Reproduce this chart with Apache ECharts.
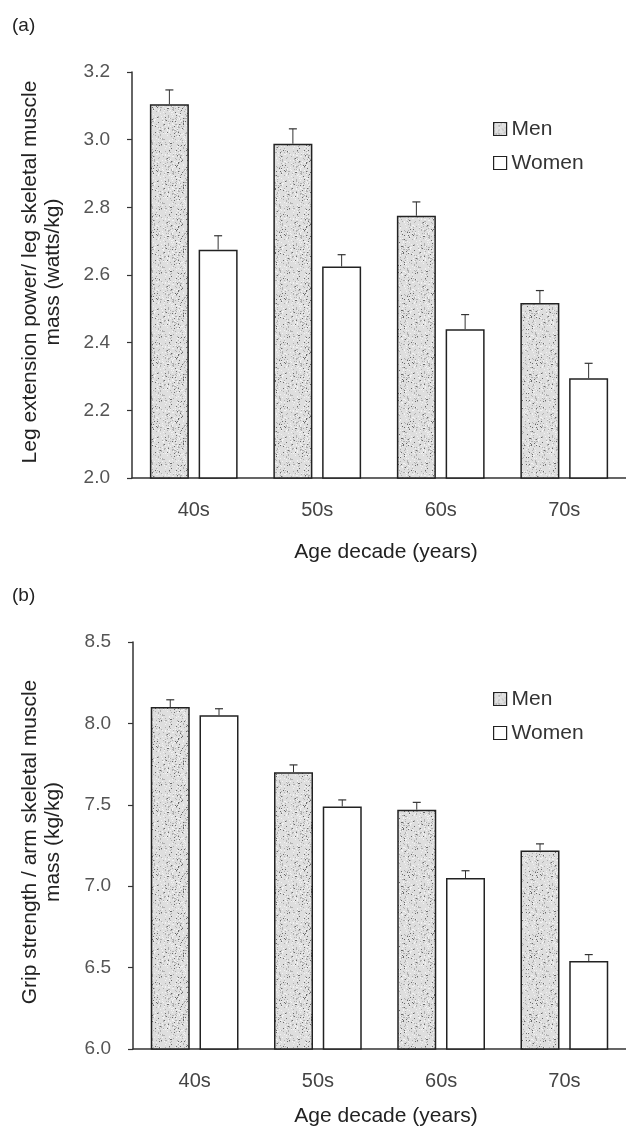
<!DOCTYPE html>
<html>
<head>
<meta charset="utf-8">
<script src="https://cdn.jsdelivr.net/npm/echarts@6/dist/echarts.min.js"></script>
<style>
html,body{margin:0;padding:0;background:#fff;}
#chart{width:626px;height:1128px;}
</style>
</head>
<body>
<div id="chart"></div>
<script>
// ---- data ----
const categories = ['40s', '50s', '60s', '70s'];
const seriesNames = ['Men', 'Women'];

const legMen = [3.105, 2.988, 2.775, 2.517];
const legMenErr = [0.042, 0.044, 0.041, 0.037];
const legWomen = [2.675, 2.625, 2.44, 2.295];
const legWomenErr = [0.041, 0.035, 0.043, 0.044];

const gripMen = [8.10, 7.70, 7.47, 7.22];
const gripMenErr = [0.045, 0.045, 0.045, 0.04];
const gripWomen = [8.05, 7.49, 7.05, 6.54];
const gripWomenErr = [0.04, 0.04, 0.045, 0.04];

const legTicks = [2.0, 2.2, 2.4, 2.6, 2.8, 3.0, 3.2];
const gripTicks = [6.0, 6.5, 7.0, 7.5, 8.0, 8.5];

const panelLabels = ['(a)', '(b)'];
const yTitles = ['Leg extension power/ leg skeletal muscle\nmass (watts/kg)',
                 'Grip strength / arm skeletal muscle\nmass (kg/kg)'];
const xTitle = 'Age decade (years)';

// ---- style ----
const FONT = '"Liberation Sans", Arial, sans-serif';
const BAR_W = 39;
const GAP_PCT = 25;
const GAP = BAR_W * GAP_PCT / 100;

// stipple texture (deterministic)
function makeStipple() {
  const c = document.createElement('canvas');
  c.width = 64; c.height = 64;
  const g = c.getContext('2d');
  g.fillStyle = '#dedede';
  g.fillRect(0, 0, 64, 64);
  let s = 12345;
  function rnd() { s = (s * 1103515245 + 12345) & 0x7fffffff; return s / 0x7fffffff; }
  for (let i = 0; i < 1000; i++) {
    const x = Math.floor(rnd() * 64), y = Math.floor(rnd() * 64);
    const t = rnd();
    g.fillStyle = t < 0.12 ? '#6a6a6a' : (t < 0.55 ? '#b0b0b0' : '#f2f2f2');
    g.fillRect(x, y, 1, 1);
  }
  return c;
}
const stipple = { image: makeStipple(), repeat: 'repeat' };

const menStyle = { color: stipple, borderColor: '#222', borderWidth: 1.5 };
const womenStyle = { color: '#ffffff', borderColor: '#222', borderWidth: 1.5 };

function errRender(side) {
  return function (params, api) {
    const i = api.value(0), v = api.value(1), e = api.value(2);
    const base = api.coord([i, v]);
    const top = api.coord([i, v + e]);
    const x = base[0] + side * (BAR_W / 2 + GAP / 2);
    return {
      type: 'group',
      children: [
        { type: 'line', shape: { x1: x, y1: base[1], x2: x, y2: top[1] }, style: { stroke: '#333', lineWidth: 1 } },
        { type: 'line', shape: { x1: x - 4, y1: top[1], x2: x + 4, y2: top[1] }, style: { stroke: '#333', lineWidth: 1.2 } }
      ]
    };
  };
}

const grids = [
  { left: 132, top: 72, width: 505, height: 406 },
  { left: 133, top: 642, width: 505, height: 407 }
];
const tickSets = [legTicks, gripTicks];

function xAxisFor(idx) {
  return {
    type: 'category', gridIndex: idx, data: categories,
    axisLine: { show: true, lineStyle: { color: '#333', width: 1.5 } },
    axisTick: { show: false },
    axisLabel: { color: '#444', fontSize: 20, fontFamily: FONT, margin: 22 },
    splitLine: { show: false }
  };
}
function yAxisFor(idx) {
  const t = tickSets[idx];
  return {
    type: 'value', gridIndex: idx,
    min: t[0], max: t[t.length - 1], interval: +(t[1] - t[0]).toFixed(2),
    axisLine: { show: true, lineStyle: { color: '#333', width: 1.5 } },
    axisTick: { show: true, inside: false, length: 5, lineStyle: { color: '#333', width: 1.2 } },
    axisLabel: { color: '#555', fontSize: 19, fontFamily: FONT, margin: 22, formatter: v => v.toFixed(1) },
    splitLine: { show: false }
  };
}

function barSeries(name, data, style, idx) {
  return {
    name: name, type: 'bar', xAxisIndex: idx, yAxisIndex: idx,
    data: data, barWidth: BAR_W, barGap: GAP_PCT + '%',
    itemStyle: style, silent: true, animation: false
  };
}
function errSeries(vals, errs, side, idx) {
  return {
    type: 'custom', xAxisIndex: idx, yAxisIndex: idx,
    renderItem: errRender(side),
    data: vals.map((v, i) => [i, v, errs[i]]),
    z: 3, silent: true, animation: false
  };
}

function legendFor(top) {
  return {
    orient: 'vertical', left: 493, top: top, padding: 0,
    icon: 'rect', itemWidth: 13, itemHeight: 13, itemGap: 12,
    selectedMode: false,
    textStyle: { fontSize: 21, lineHeight: 22, fontFamily: FONT, color: '#333' },
    data: [
      { name: seriesNames[0], itemStyle: { color: stipple, borderColor: '#222', borderWidth: 1.2 } },
      { name: seriesNames[1], itemStyle: { color: '#fff', borderColor: '#222', borderWidth: 1.2 } }
    ]
  };
}

const graphics = [];
[27, 597].forEach((y, k) => {
  graphics.push({ type: 'text', left: 12, top: y - 11, style: { text: panelLabels[k], font: '19px ' + FONT, fill: '#222' } });
});
[272, 842].forEach((y, k) => {
  graphics.push({
    type: 'text', x: 42, y: y, rotation: Math.PI / 2,
    style: { text: yTitles[k], font: '21px ' + FONT, fill: '#222', align: 'center', verticalAlign: 'middle', lineHeight: 23 }
  });
});
[552, 1116].forEach((y) => {
  graphics.push({
    type: 'text', x: 386, y: y,
    style: { text: xTitle, font: '21px ' + FONT, fill: '#222', align: 'center', verticalAlign: 'middle' }
  });
});

const option = {
  backgroundColor: '#fff',
  animation: false,
  grid: grids,
  xAxis: [xAxisFor(0), xAxisFor(1)],
  yAxis: [yAxisFor(0), yAxisFor(1)],
  legend: [legendFor(118), legendFor(688)],
  graphic: graphics,
  series: [
    barSeries('Men', legMen, menStyle, 0),
    barSeries('Women', legWomen, womenStyle, 0),
    errSeries(legMen, legMenErr, -1, 0),
    errSeries(legWomen, legWomenErr, 1, 0),
    barSeries('Men', gripMen, menStyle, 1),
    barSeries('Women', gripWomen, womenStyle, 1),
    errSeries(gripMen, gripMenErr, -1, 1),
    errSeries(gripWomen, gripWomenErr, 1, 1)
  ]
};

const chart = echarts.init(document.getElementById('chart'), null, { renderer: 'canvas' });
chart.setOption(option);
</script>
</body>
</html>
